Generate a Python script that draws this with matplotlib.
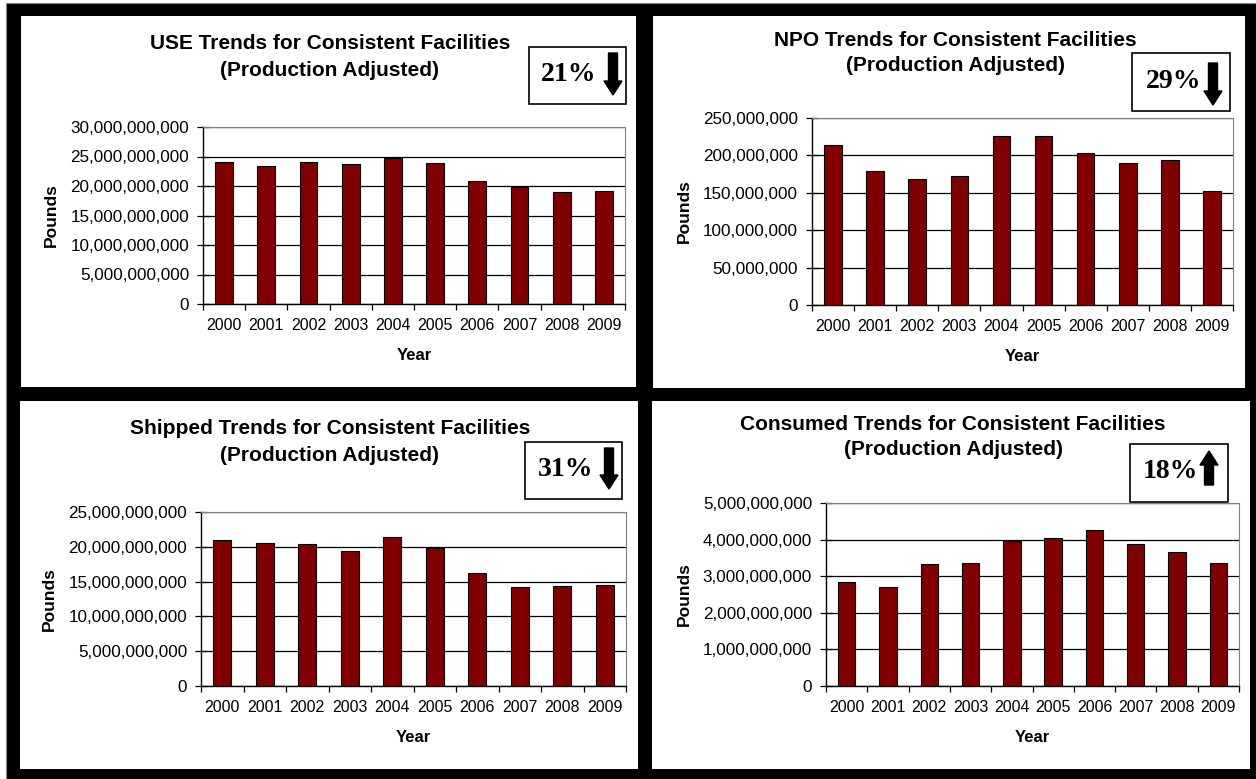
import matplotlib.pyplot as plt
from matplotlib.patches import Rectangle, FancyArrow
from matplotlib.ticker import FuncFormatter, MultipleLocator

plt.rcParams['font.family'] = ['Liberation Sans', 'DejaVu Sans']

# Pounds per year, production adjusted
years = [str(y) for y in range(2000, 2010)]
use_lbs = [24.1e9, 23.4e9, 24.1e9, 23.7e9, 24.8e9, 23.9e9, 20.8e9, 19.9e9, 18.9e9, 19.1e9]
npo_lbs = [214e6, 179e6, 168e6, 173e6, 226e6, 226e6, 203e6, 190e6, 194e6, 152e6]
shipped_lbs = [21.0e9, 20.6e9, 20.4e9, 19.4e9, 21.4e9, 19.8e9, 16.2e9, 14.2e9, 14.4e9, 14.5e9]
consumed_lbs = [2.84e9, 2.71e9, 3.32e9, 3.35e9, 3.97e9, 4.04e9, 4.27e9, 3.89e9, 3.67e9, 3.36e9]

titles = ['USE', 'NPO', 'Shipped', 'Consumed']
changes = ['21%', '29%', '31%', '18%']
arrow_dir = ['down', 'down', 'down', 'up']
y_max = [30e9, 250e6, 25e9, 5e9]
y_step = [5e9, 50e6, 5e9, 1e9]

W, H = 1256, 779
BAR_COLOR = '#800000'

# layout in pixels: white panel, plot area, title line centres, change box
layout = [
    dict(panel=(21, 16, 636, 387), plot=(203, 127, 625, 304), tx=330, ty=(43, 70),
         box=(529, 47, 626, 104), txt=(569, 74), arr=(613, 53, 95)),
    dict(panel=(653, 16, 1245, 388), plot=(812, 118, 1233, 305), tx=955, ty=(40, 65),
         box=(1132, 53, 1230, 111), txt=(1174, 81), arr=(1213, 63, 105)),
    dict(panel=(20, 401, 638, 769), plot=(201, 512, 626, 686), tx=330, ty=(428, 455),
         box=(525, 442, 622, 499), txt=(566, 469), arr=(609, 448, 489)),
    dict(panel=(652, 401, 1250, 769), plot=(826, 503, 1239, 686), tx=953, ty=(424, 449),
         box=(1130, 444, 1228, 502), txt=(1170, 471), arr=(1209, 485, 451)),
]
series = [use_lbs, npo_lbs, shipped_lbs, consumed_lbs]


def frac(x0, y0, x1, y1):
    return [x0 / W, 1 - y1 / H, (x1 - x0) / W, (y1 - y0) / H]


fig = plt.figure(figsize=(W / 100, H / 100), dpi=100, facecolor='white')

# background layer in pixel coordinates
bg = fig.add_axes([0, 0, 1, 1], zorder=0)
bg.set_xlim(0, W)
bg.set_ylim(H, 0)
bg.axis('off')
bg.add_patch(Rectangle((6, 3), W - 6, H - 3, facecolor='black', edgecolor='#888888', lw=0.8))

for i, lay in enumerate(layout):
    x0, y0, x1, y1 = lay['panel']
    bg.add_patch(Rectangle((x0, y0), x1 - x0, y1 - y0, facecolor='white', edgecolor='none'))

    bg.text(lay['tx'], lay['ty'][0], f'{titles[i]} Trends for Consistent Facilities',
            ha='center', va='center', fontsize=15, fontweight='bold')
    bg.text(lay['tx'], lay['ty'][1], '(Production Adjusted)',
            ha='center', va='center', fontsize=15, fontweight='bold')

    bx0, by0, bx1, by1 = lay['box']
    bg.add_patch(Rectangle((bx0, by0), bx1 - bx0, by1 - by0, facecolor='white',
                           edgecolor='black', lw=1.2))
    bg.text(lay['txt'][0], lay['txt'][1], changes[i], ha='center', va='center',
            fontsize=20, fontweight='bold', family='Liberation Serif')
    ax_x, a_start, a_end = lay['arr']
    bg.add_patch(FancyArrow(ax_x, a_start, 0, a_end - a_start, width=9, head_width=18,
                            head_length=14, length_includes_head=True,
                            facecolor='black', edgecolor='black'))

    # the bar chart itself
    ax = fig.add_axes(frac(*lay['plot']), zorder=1)
    ax.bar(range(len(years)), series[i], width=0.42, color=BAR_COLOR,
           edgecolor='black', linewidth=0.8, zorder=3)
    ax.set_xlim(-0.5, len(years) - 0.5)
    ax.set_ylim(0, y_max[i])
    ax.yaxis.set_major_locator(MultipleLocator(y_step[i]))
    ax.yaxis.set_major_formatter(FuncFormatter(lambda v, p: f'{v:,.0f}'))
    ax.grid(axis='y', color='black', linewidth=0.9, zorder=1)
    ax.set_axisbelow(True)

    ax.set_xticks(range(len(years)))
    ax.set_xticklabels(years)
    ax.set_xticks([k - 0.5 for k in range(len(years) + 1)], minor=True)
    ax.tick_params(axis='x', which='major', length=0, pad=10, labelsize=11.5)
    ax.tick_params(axis='x', which='minor', direction='out', length=4, width=0.9)
    ax.tick_params(axis='y', direction='inout', length=8, width=0.9, pad=6, labelsize=12.3)

    for side in ('top', 'right'):
        ax.spines[side].set_color('#808080')
    for side in ('left', 'bottom'):
        ax.spines[side].set_color('black')
        ax.spines[side].set_linewidth(1.0)

    ax.set_xlabel('Year', fontsize=12, fontweight='bold', labelpad=11)
    ax.set_ylabel('Pounds', fontsize=12.5, fontweight='bold', labelpad=8)

fig.savefig('out.png', dpi=100, facecolor=fig.get_facecolor())
